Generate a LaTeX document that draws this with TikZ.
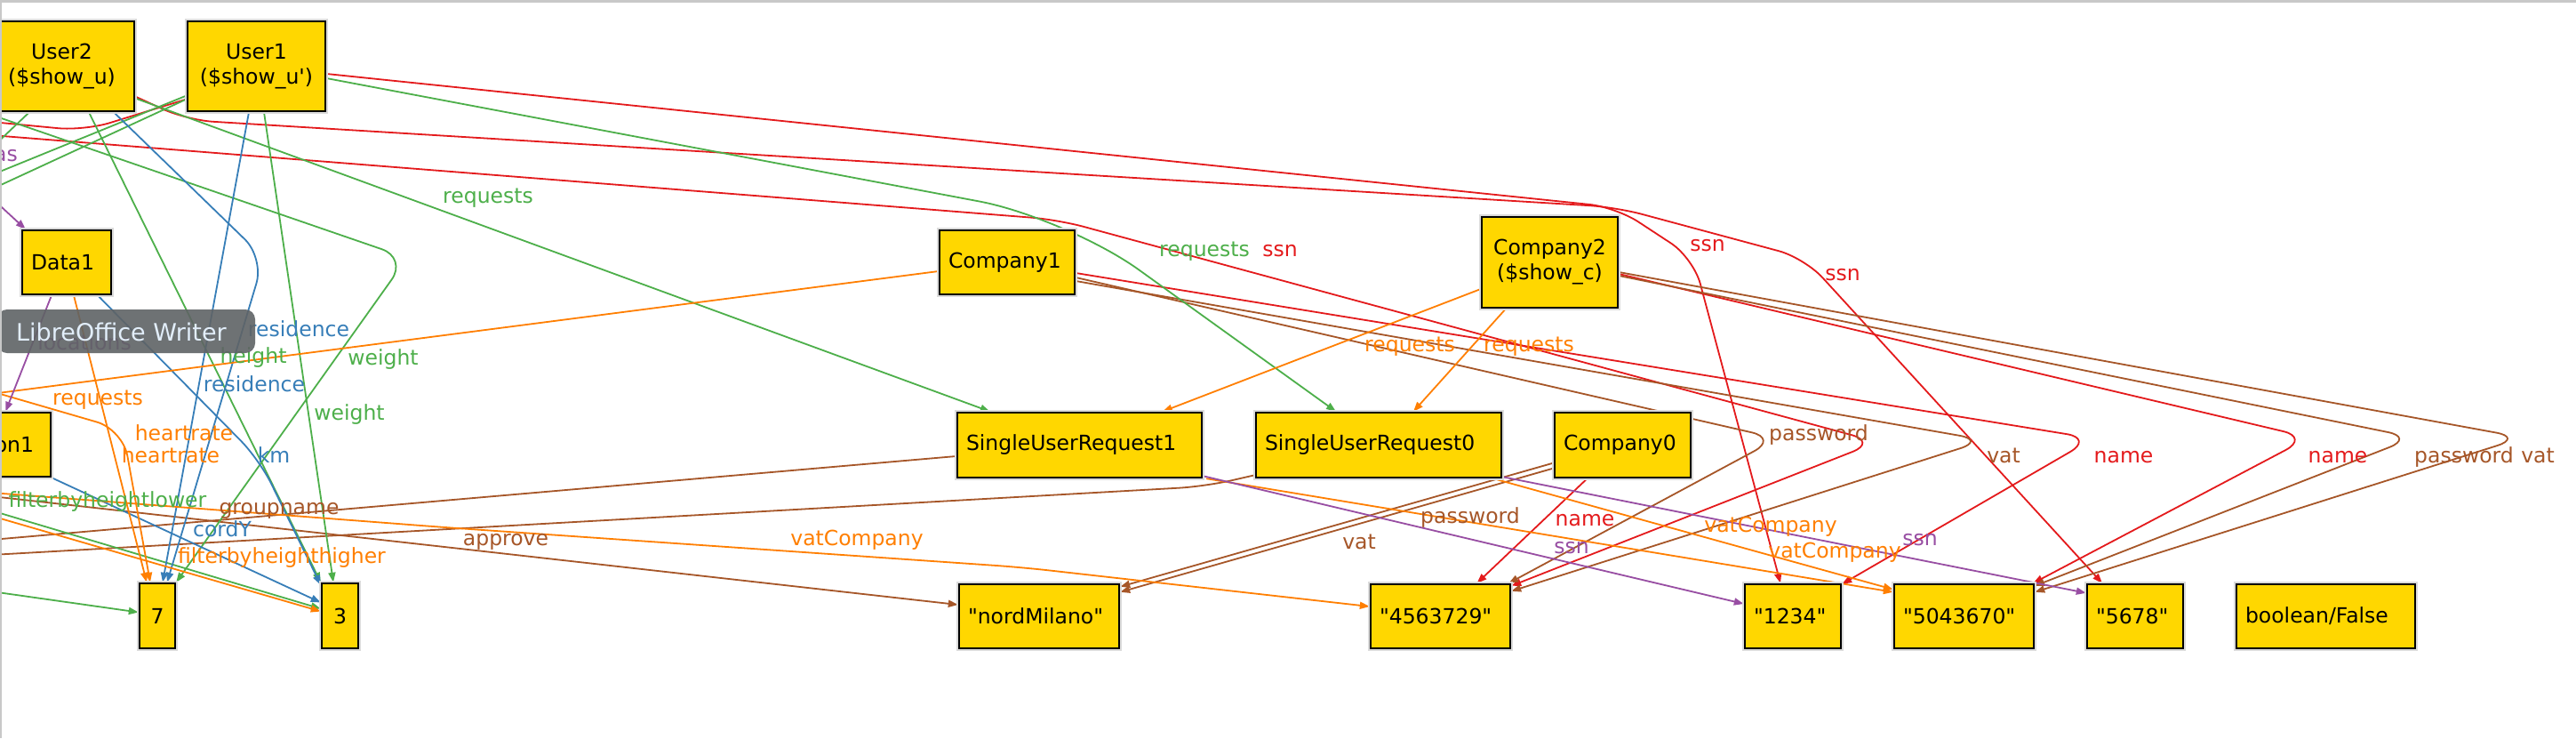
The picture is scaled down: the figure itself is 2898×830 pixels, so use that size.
\documentclass[tikz,border=0pt]{standalone}
\usepackage{fontspec}
\setmainfont{DejaVu Sans}
\newfontfamily\dvs{DejaVu Sans}
\usetikzlibrary{arrows.meta,calc}
\pgfdeclarelayer{edges}
\pgfsetlayers{edges,main}
\definecolor{cRed}{HTML}{E41A1C}
\definecolor{cBlue}{HTML}{377EB8}
\definecolor{cGreen}{HTML}{4DAF4A}
\definecolor{cPurple}{HTML}{984EA3}
\definecolor{cOrange}{HTML}{FF7F00}
\definecolor{cBrown}{HTML}{A65628}
\definecolor{cGold}{HTML}{FFD700}
\definecolor{cTipBg}{HTML}{5F6365}
\definecolor{cTipTx}{HTML}{E2EEFA}
\definecolor{cFrame}{HTML}{C8C8C8}
\newcommand\nfont{\dvs\fontsize{23.5}{28}\selectfont}
\begin{document}
\begin{tikzpicture}[x=1pt,y=-1pt,
  nbox/.style={draw=black, line width=2.4pt, fill=cGold, inner xsep=10pt, inner ysep=0pt, font=\nfont, preaction={draw=black!14, line width=6pt}},
  lbox/.style={nbox, align=left},
  cbox/.style={nbox, align=center},
  edg/.style={line width=1.8pt, rounded corners=30pt},
  arr/.style={-{Triangle[length=11pt,width=8pt]}},
  elab/.style={font=\nfont, inner sep=0pt, text height=17.6pt, text depth=5.9pt},
]
\path[use as bounding box] (0,0) rectangle (2898,830);
\clip (0,0) rectangle (2898,830);

% ---------- nodes ----------
\node[cbox, text width=143pt, minimum height=101pt] (U2) at (69.5,74.5) {User2\\(\$show\_u)};
\node[cbox, text width=135pt, minimum height=101pt] (U1) at (288.5,74.5) {User1\\(\$show\_u')};
\node[lbox, text width=80pt, minimum height=72pt] (D1) at (75,295) {Data1};
\node[nbox, inner xsep=19pt, text width=169pt, align=right, minimum height=72pt] (ON1) at (-46.5,500) {on1};
\node[cbox, inner xsep=4pt, text width=32pt, minimum height=73pt] (N7) at (177,692.5) {7};
\node[cbox, inner xsep=4pt, text width=33pt, minimum height=73pt] (N3) at (382.5,692.5) {3};
\node[lbox, text width=132pt, minimum height=72pt] (C1) at (1133,295) {Company1};
\node[cbox, text width=133pt, minimum height=102pt] (C2) at (1743.5,295) {Company2\\(\$show\_c)};
\node[lbox, text width=255pt, minimum height=73pt] (SR1) at (1214.5,500.5) {SingleUserRequest1};
\node[lbox, text width=256pt, minimum height=73pt] (SR0) at (1551,500.5) {SingleUserRequest0};
\node[lbox, text width=133pt, minimum height=73pt] (C0) at (1825.5,500.5) {Company0};
\node[lbox, text width=160pt, minimum height=72pt] (NM) at (1169,693) {"nordMilano"};
\node[lbox, text width=137pt, minimum height=72pt] (V45) at (1620.5,693) {"4563729"};
\node[lbox, text width=88pt, minimum height=72pt] (S1234) at (2017,693) {"1234"};
\node[lbox, text width=137pt, minimum height=72pt] (V50) at (2209.5,693) {"5043670"};
\node[lbox, text width=88pt, minimum height=72pt] (S5678) at (2402,693) {"5678"};
\node[lbox, text width=181pt, minimum height=72pt] (BF) at (2616.5,693) {boolean/False};

% ---------- edges ----------
\begin{pgfonlayer}{edges}
\clip (0,0) rectangle (2898,830);
\fill[white] (0,0) rectangle (2898,830);
\coordinate (oR3) at (-10,152);
\coordinate (oRu) at (-10,137);
\coordinate (oW) at (-10,129);
\coordinate (oG1) at (-10,197);
\coordinate (oG2) at (-10,213);
\coordinate (oG3) at (-10,167);
\coordinate (oHas) at (-10,222);
\coordinate (oRq) at (-10,443);
\coordinate (oH) at (-10,440);
\coordinate (oF1) at (-10,574);
\coordinate (oF2) at (-10,580);
\coordinate (oG7) at (-10,665);
\coordinate (oVC) at (-10,554);
\coordinate (oAp) at (-10,558);
\coordinate (oGn) at (-10,607);
\coordinate (oS0) at (-10,624);
% red
\draw[edg, cRed, arr] ($(U1.east)+(0,8.5)$) -- (1818,233) -- (1905,290) -- ($(S1234.north)+(-14,0)$);
\draw[edg, cRed, arr] ($(U2.east)+(0,34)$) -- (210,135) -- (1818,233) -- (2030,290) -- ($(S5678.north)+(-37,0)$);
\draw[edg, cRed, arr] (oR3) -- (1190,247) -- (2112,497) -- ($(V45.north east)+(0,3)$);
\draw[edg, cRed] (oRu) -- (95,147) -- ($(U1.west)+(0,37)$);
\draw[edg, cRed, arr] ($(C1.east)+(0,12)$) -- (2355,493) -- ($(S1234.north east)+(0,1)$);
\draw[edg, cRed, arr] ($(C2.east)+(0,13)$) -- (2598,492) -- ($(V50.north east)+(-2,0)$);
\draw[edg, cRed, arr] ($(C0.south)+(-40,0)$) -- ($(V45.north)+(41,0)$);
% brown
\draw[edg, cBrown, arr] ($(C1.east)+(0,17)$) -- (2000,493) -- ($(V45.north east)+(-3,0)$);
\draw[edg, cBrown, arr] ($(C1.east)+(0,21)$) -- (2234,495) -- ($(V45.north east)+(0,9)$);
\draw[edg, cBrown, arr] ($(C2.east)+(0,15)$) -- (2716,492) -- ($(V50.north east)+(0,3)$);
\draw[edg, cBrown, arr] ($(C2.east)+(0,11)$) -- (2838,492) -- ($(V50.north east)+(0,10)$);
\draw[edg, cBrown, arr] ($(C0.west)+(0,20)$) -- ($(NM.north east)+(0,4)$);
\draw[edg, cBrown, arr] ($(C0.west)+(0,26)$) -- ($(NM.north east)+(0,10)$);
\draw[edg, cBrown, arr] (oAp) -- (500,615) -- ($(NM.west)+(0,-13)$);
\draw[edg, cBrown] ($(SR1.west)+(0,12.5)$) -- (oGn);
\draw[edg, cBrown] ($(SR0.south west)+(0,-4)$) -- (1356,547) -- (oS0);
% green
\draw[edg, cGreen, arr, rounded corners=100pt] ($(U1.east)+(0,13.5)$) -- (1200,245) -- ($(SR0.north)+(-48,0)$);
\draw[edg, cGreen, arr] ($(U2.east)+(0,36)$) -- ($(SR1.north west)+(38,0)$);
\draw[edg, cGreen, arr] (oW) -- (458,290) -- (N7.north east);
\draw[edg, cGreen] ($(U1.west)+(0,33)$) -- (oG1);
\draw[edg, cGreen] ($(U1.west)+(0,37)$) -- (oG2);
\draw[edg, cGreen] ($(U2.south)+(-36.5,0)$) -- (oG3);
\draw[edg, cGreen, arr] ($(U2.south)+(30.5,0)$) -- (N3.north west);
\draw[edg, cGreen, arr] ($(U1.south)+(8.5,0)$) -- ($(N3.north)+(-7.5,0)$);
\draw[edg, cGreen, arr] (oF1) -- ($(N3.west)+(0,-8)$);
\draw[edg, cGreen, arr] (oG7) -- ($(N7.west)+(0,-4)$);
% blue
\draw[edg, cBlue, arr] ($(U1.south)+(-8.5,0)$) -- ($(N7.north)+(6,0)$);
\draw[edg, cBlue, arr] ($(U2.south)+(58.5,0)$) -- (297,290) -- ($(N7.north)+(11,0)$);
\draw[edg, cBlue, arr] ($(D1.south)+(35,0)$) -- (292,517) -- ($(N3.north west)+(0,3)$);
\draw[edg, cBlue, arr] (ON1.south east) -- ($(N3.west)+(0,-15)$);
% orange
\draw[edg, cOrange, arr] ($(D1.south)+(8,0)$) -- ($(N7.north)+(-12,0)$);
\draw[edg, cOrange, arr] (oH) -- (138,483) -- ($(N7.north)+(-8,0)$);
\draw[edg, cOrange] ($(C1.west)+(0,10)$) -- (oRq);
\draw[edg, cOrange, arr] (oF2) -- ($(N3.west)+(0,-5)$);
\draw[edg, cOrange, arr] (oVC) -- (500,593) -- (1150,638) -- ($(V45.west)+(0,-11)$);
\draw[edg, cOrange, arr] ($(C2.west)+(0,30)$) -- ($(SR1.north west)+(232,0)$);
\draw[edg, cOrange, arr] ($(C2.south)+(-49.5,0)$) -- ($(SR0.north)+(39,0)$);
\draw[edg, cOrange, arr] ($(SR1.south east)+(4,0)$) -- ($(V50.north west)+(0,10)$);
\draw[edg, cOrange, arr] ($(SR0.south east)+(-10,0)$) -- ($(V50.north west)+(0,7)$);
% purple
\draw[edg, cPurple, arr] ($(D1.south)+(-17,0)$) -- ($(ON1.north east)+(-52,0)$);
\draw[edg, cPurple, arr] (oHas) -- ($(D1.north west)+(5,0)$);
\draw[edg, cPurple, arr] ($(SR1.south east)+(0,-3)$) -- ($(S1234.west)+(0,-14)$);
\draw[edg, cPurple, arr] ($(SR0.south east)+(0,-2)$) -- ($(S5678.north west)+(0,11)$);
\end{pgfonlayer}

% ---------- edge labels ----------
\node[elab, text=cRed] (l01) at (1921,277) {ssn};
\node[elab, text=cRed] (l02) at (2073,310) {ssn};
\node[elab, text=cRed] (l03) at (1440,283) {ssn};
\node[elab, text=cGreen] (l04) at (1355,283) {requests};
\node[elab, text=cGreen] (l05) at (549,223) {requests};
\node[elab, text=cBrown] (l06) at (2046,490) {password};
\node[elab, text=cBrown] (l07) at (2254,515) {vat};
\node[elab, text=cRed] (l08) at (2389,515) {name};
\node[elab, text=cRed] (l09) at (2630,515) {name};
\node[elab, text=cBrown, anchor=west] (l10) at (2716,515) {password};
\node[elab, text=cBrown, anchor=east] (l11) at (2874,515) {vat};
\node[elab, text=cOrange] (l12) at (1586,390) {requests};
\node[elab, text=cOrange] (l13) at (1720,390) {requests};
\node[elab, text=cBrown] (l14) at (1654,583) {password};
\node[elab, text=cBrown] (l15) at (1529,612) {vat};
\node[elab, text=cRed] (l16) at (1783,586) {name};
\node[elab, text=cPurple] (l17) at (1768,617) {ssn};
\node[elab, text=cOrange] (l18) at (1992,593) {vatCompany};
\node[elab, text=cOrange] (l19) at (2064,622) {vatCompany};
\node[elab, text=cPurple] (l20) at (2160,608) {ssn};
\node[elab, text=cOrange] (l21) at (964,608) {vatCompany};
\node[elab, text=cBrown] (l22) at (569,608) {approve};
\node[elab, text=cBrown] (l23) at (314,573) {groupname};
\node[elab, text=cBlue] (l24) at (250,598) {cordY};
\node[elab, text=cOrange] (l25) at (317,628) {filterbyheighthigher};
\node[elab, text=cGreen] (l26) at (121,565) {filterbyheightlower};
\node[elab, text=cOrange] (l27) at (207,490) {heartrate};
\node[elab, text=cOrange] (l28) at (192,515) {heartrate};
\node[elab, text=cBlue] (l29) at (308,515) {km};
\node[elab, text=cOrange] (l30) at (110,450) {requests};
\node[elab, text=cBlue] (l31) at (286,435) {residence};
\node[elab, text=cGreen] (l32) at (393,467) {weight};
\node[elab, text=cBlue] (l33) at (336,373) {residence};
\node[elab, text=cGreen] (l34) at (285,403) {height};
\node[elab, text=cGreen] (l35) at (431,405) {weight};
\node[elab, text=cPurple] (l36) at (95,388) {locations};
\node[elab, text=cPurple, anchor=west] (l37) at (-7,176) {as};

% ---------- tooltip ----------
\node[fill=cTipBg, fill opacity=0.9, rounded corners=11pt, minimum width=290pt, minimum height=49pt, inner sep=0pt] (tipbox) at (142,372.5) {};
\node[font=\dvs\fontsize{27}{30}\selectfont, text=cTipTx, anchor=base west, inner sep=0pt] (tiptext) at (18,383) {LibreOffice Writer};

% ---------- window frame ----------
\draw[cFrame, line width=3pt] (0,1.5) -- (2898,1.5);
\draw[cFrame, line width=2.5pt] (1.2,0) -- (1.2,830);
\end{tikzpicture}
\end{document}
